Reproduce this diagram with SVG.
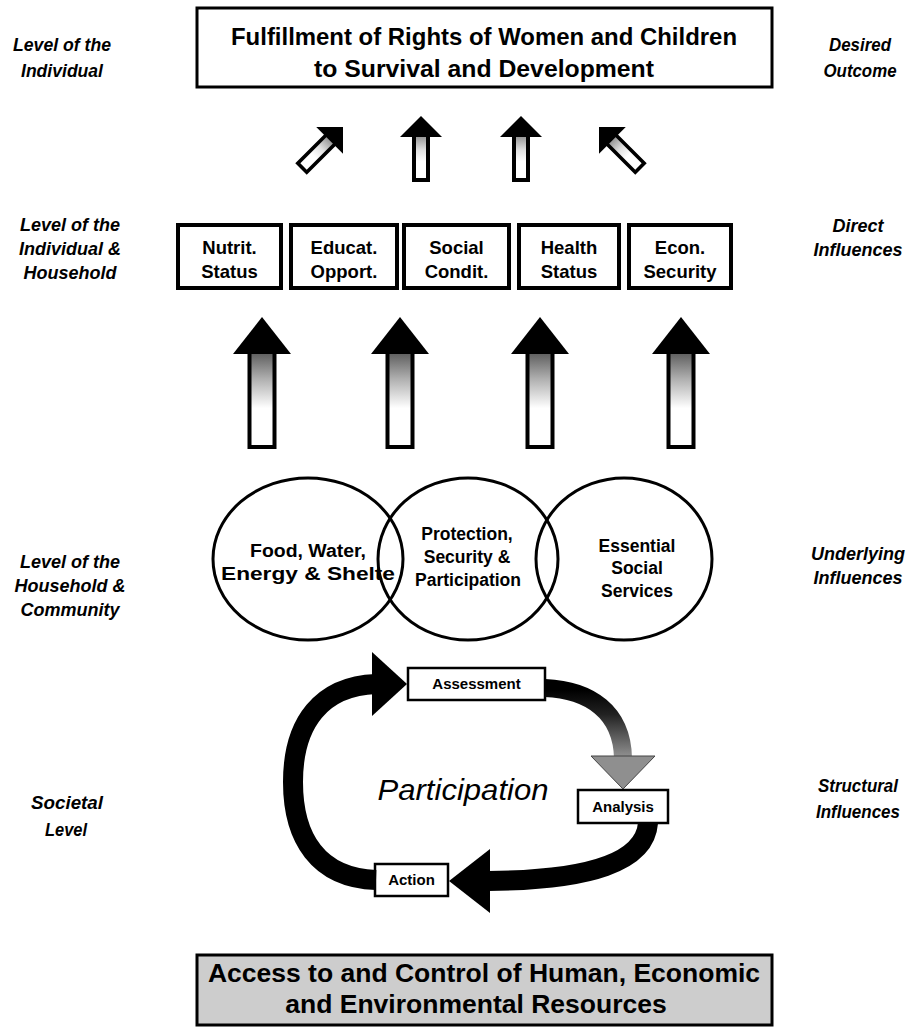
<svg xmlns="http://www.w3.org/2000/svg" width="910" height="1029" viewBox="0 0 910 1029">
  <defs>
    <style>
      text { font-family: "Liberation Sans", Arial, sans-serif; fill: #000; }
      .lvl { font-size: 18px; font-weight: bold; font-style: italic; text-anchor: middle; }
      .title { font-size: 24px; font-weight: bold; text-anchor: middle; }
      .box { font-size: 18.5px; font-weight: bold; text-anchor: middle; }
      .circ { font-size: 17.5px; font-weight: bold; text-anchor: middle; }
      .step { font-size: 15px; font-weight: bold; text-anchor: middle; }
      .res { font-size: 26.5px; font-weight: bold; text-anchor: middle; }
      .frame { fill: #fff; stroke: #000; stroke-width: 4; }
      .thin { fill: #fff; stroke: #000; stroke-width: 2.5; }
      .ring { fill: none; stroke: #000; stroke-width: 3; }
      .head { fill: #000; }
      .shaft { stroke: #000; stroke-width: 4; }
      .loop { fill: none; stroke: #000; stroke-width: 20; }
    </style>
    <linearGradient id="shadeBig" x1="0" y1="0" x2="0" y2="1">
      <stop offset="0" stop-color="#555"/>
      <stop offset="0.3" stop-color="#b0b0b0"/>
      <stop offset="0.6" stop-color="#fff"/>
      <stop offset="1" stop-color="#fff"/>
    </linearGradient>
    <linearGradient id="shadeSmall" x1="0" y1="0" x2="0" y2="1">
      <stop offset="0" stop-color="#888"/>
      <stop offset="0.35" stop-color="#e0e0e0"/>
      <stop offset="0.6" stop-color="#fff"/>
      <stop offset="1" stop-color="#fff"/>
    </linearGradient>
    <linearGradient id="fadeDown" gradientUnits="userSpaceOnUse" x1="0" y1="690" x2="0" y2="760">
      <stop offset="0" stop-color="#000"/>
      <stop offset="0.35" stop-color="#222"/>
      <stop offset="1" stop-color="#999"/>
    </linearGradient>
    <!-- small up-arrow centred on the origin -->
    <g id="smallArrow">
      <rect class="shaft" x="-7" y="-15" width="14" height="46" fill="url(#shadeSmall)"/>
      <polygon class="head" points="0,-33 21,-12 -21,-12"/>
    </g>
    <!-- large up-arrow centred on x=0, drawn at its own height -->
    <g id="bigArrow">
      <rect class="shaft" x="-12.5" y="350" width="25" height="97" fill="url(#shadeBig)"/>
      <polygon class="head" points="0,317 29,354 -29,354"/>
    </g>
  </defs>

  <rect width="910" height="1029" fill="#fff"/>

  <!-- level labels, left column -->
  <g id="levels-left">
    <text class="lvl" x="62" y="51" textLength="98" lengthAdjust="spacingAndGlyphs">Level of the</text>
    <text class="lvl" x="62" y="77" textLength="82" lengthAdjust="spacingAndGlyphs">Individual</text>
    <text class="lvl" x="70" y="231">Level of the</text>
    <text class="lvl" x="70" y="255">Individual &amp;</text>
    <text class="lvl" x="70" y="279">Household</text>
    <text class="lvl" x="70" y="568">Level of the</text>
    <text class="lvl" x="70" y="592">Household &amp;</text>
    <text class="lvl" x="70" y="616">Community</text>
    <text class="lvl" x="67" y="809" textLength="72" lengthAdjust="spacingAndGlyphs">Societal</text>
    <text class="lvl" x="66" y="836" textLength="42" lengthAdjust="spacingAndGlyphs">Level</text>
  </g>

  <!-- influence labels, right column -->
  <g id="levels-right">
    <text class="lvl" x="860" y="51" textLength="62" lengthAdjust="spacingAndGlyphs">Desired</text>
    <text class="lvl" x="860" y="77" textLength="73" lengthAdjust="spacingAndGlyphs">Outcome</text>
    <text class="lvl" x="858" y="232">Direct</text>
    <text class="lvl" x="858" y="256">Influences</text>
    <text class="lvl" x="858" y="560">Underlying</text>
    <text class="lvl" x="858" y="584">Influences</text>
    <text class="lvl" x="858" y="792" textLength="80" lengthAdjust="spacingAndGlyphs">Structural</text>
    <text class="lvl" x="858" y="818" textLength="84" lengthAdjust="spacingAndGlyphs">Influences</text>
  </g>

  <!-- desired outcome -->
  <g id="outcome">
    <rect x="197" y="8" width="575" height="79" fill="#fff" stroke="#000" stroke-width="3"/>
    <text class="title" x="484" y="45" textLength="506" lengthAdjust="spacingAndGlyphs">Fulfillment of Rights of Women and Children</text>
    <text class="title" x="484" y="77" textLength="340" lengthAdjust="spacingAndGlyphs">to Survival and Development</text>
  </g>

  <!-- direct influences -->
  <g id="nutrit">
    <rect class="frame" x="178" y="225" width="103" height="63"/>
    <text class="box" x="229.5" y="254">Nutrit.</text>
    <text class="box" x="229.5" y="278">Status</text>
  </g>
  <g id="educat">
    <rect class="frame" x="291" y="225" width="106" height="63"/>
    <text class="box" x="344" y="254">Educat.</text>
    <text class="box" x="344" y="278">Opport.</text>
  </g>
  <g id="social">
    <rect class="frame" x="404" y="225" width="105" height="63"/>
    <text class="box" x="456.5" y="254">Social</text>
    <text class="box" x="456.5" y="278">Condit.</text>
  </g>
  <g id="health">
    <rect class="frame" x="519" y="225" width="100" height="63"/>
    <text class="box" x="569" y="254">Health</text>
    <text class="box" x="569" y="278">Status</text>
  </g>
  <g id="econ">
    <rect class="frame" x="629" y="225" width="102" height="63"/>
    <text class="box" x="680" y="254">Econ.</text>
    <text class="box" x="680" y="278">Security</text>
  </g>

  <!-- underlying influences -->
  <g id="food">
    <ellipse class="ring" cx="308" cy="559" rx="95" ry="81"/>
    <text class="circ" x="308" y="557" textLength="116" lengthAdjust="spacingAndGlyphs">Food, Water,</text>
    <text class="circ" x="308" y="580" textLength="174" lengthAdjust="spacingAndGlyphs">Energy &amp; Shelte</text>
  </g>
  <g id="protection">
    <ellipse class="ring" cx="468" cy="559" rx="90" ry="81"/>
    <text class="circ" x="467" y="540">Protection,</text>
    <text class="circ" x="467" y="563">Security &amp;</text>
    <text class="circ" x="468" y="586">Participation</text>
  </g>
  <g id="services">
    <ellipse class="ring" cx="624" cy="559" rx="88" ry="81"/>
    <text class="circ" x="637" y="552">Essential</text>
    <text class="circ" x="637" y="574">Social</text>
    <text class="circ" x="637" y="597">Services</text>
  </g>

  <!-- structural influences: the participation cycle -->
  <g id="assessment">
    <rect class="thin" x="408" y="668" width="137" height="32"/>
    <text class="step" x="476.5" y="689">Assessment</text>
  </g>
  <g id="analysis">
    <rect class="thin" x="578" y="790" width="90" height="33"/>
    <text class="step" x="623" y="812">Analysis</text>
  </g>
  <g id="action">
    <rect class="thin" x="375" y="864" width="73" height="32"/>
    <text class="step" x="411.5" y="885">Action</text>
  </g>
  <text x="463" y="800" font-size="29" font-style="italic" text-anchor="middle" textLength="171" lengthAdjust="spacingAndGlyphs">Participation</text>

  <!-- resources at the base -->
  <g id="resources">
    <rect x="197" y="955" width="575" height="70" fill="#cdcdcd" stroke="#000" stroke-width="3"/>
    <text class="res" x="484" y="982">Access to and Control of Human, Economic</text>
    <text class="res" x="476" y="1013">and Environmental Resources</text>
  </g>

  <!-- connectors -->
  <g id="connectors">
    <use href="#smallArrow" transform="translate(322,148) rotate(45) scale(0.9)"/>
    <use href="#smallArrow" transform="translate(421,149)"/>
    <use href="#smallArrow" transform="translate(521,149)"/>
    <use href="#smallArrow" transform="translate(620,148) rotate(-45) scale(0.9)"/>

    <use href="#bigArrow" transform="translate(262,0)"/>
    <use href="#bigArrow" transform="translate(400,0)"/>
    <use href="#bigArrow" transform="translate(540,0)"/>
    <use href="#bigArrow" transform="translate(681,0)"/>

    <!-- Action back up to Assessment -->
    <path class="loop" d="M376,880 C318,878 293,838 293,782 C293,722 322,686 376,684"/>
    <polygon class="head" points="407,684 372,652 372,716"/>
    <!-- Assessment down to Analysis -->
    <path d="M545,688 C590,690 622,712 623,758" fill="none" stroke="url(#fadeDown)" stroke-width="18"/>
    <polygon points="623,789 591,756 655,756" fill="#8f8f8f" stroke="#444" stroke-width="1"/>
    <!-- Analysis round to Action -->
    <path class="loop" d="M648,823 C645,862 590,880 488,881"/>
    <polygon class="head" points="449,881 490,849 490,913"/>
  </g>
</svg>
